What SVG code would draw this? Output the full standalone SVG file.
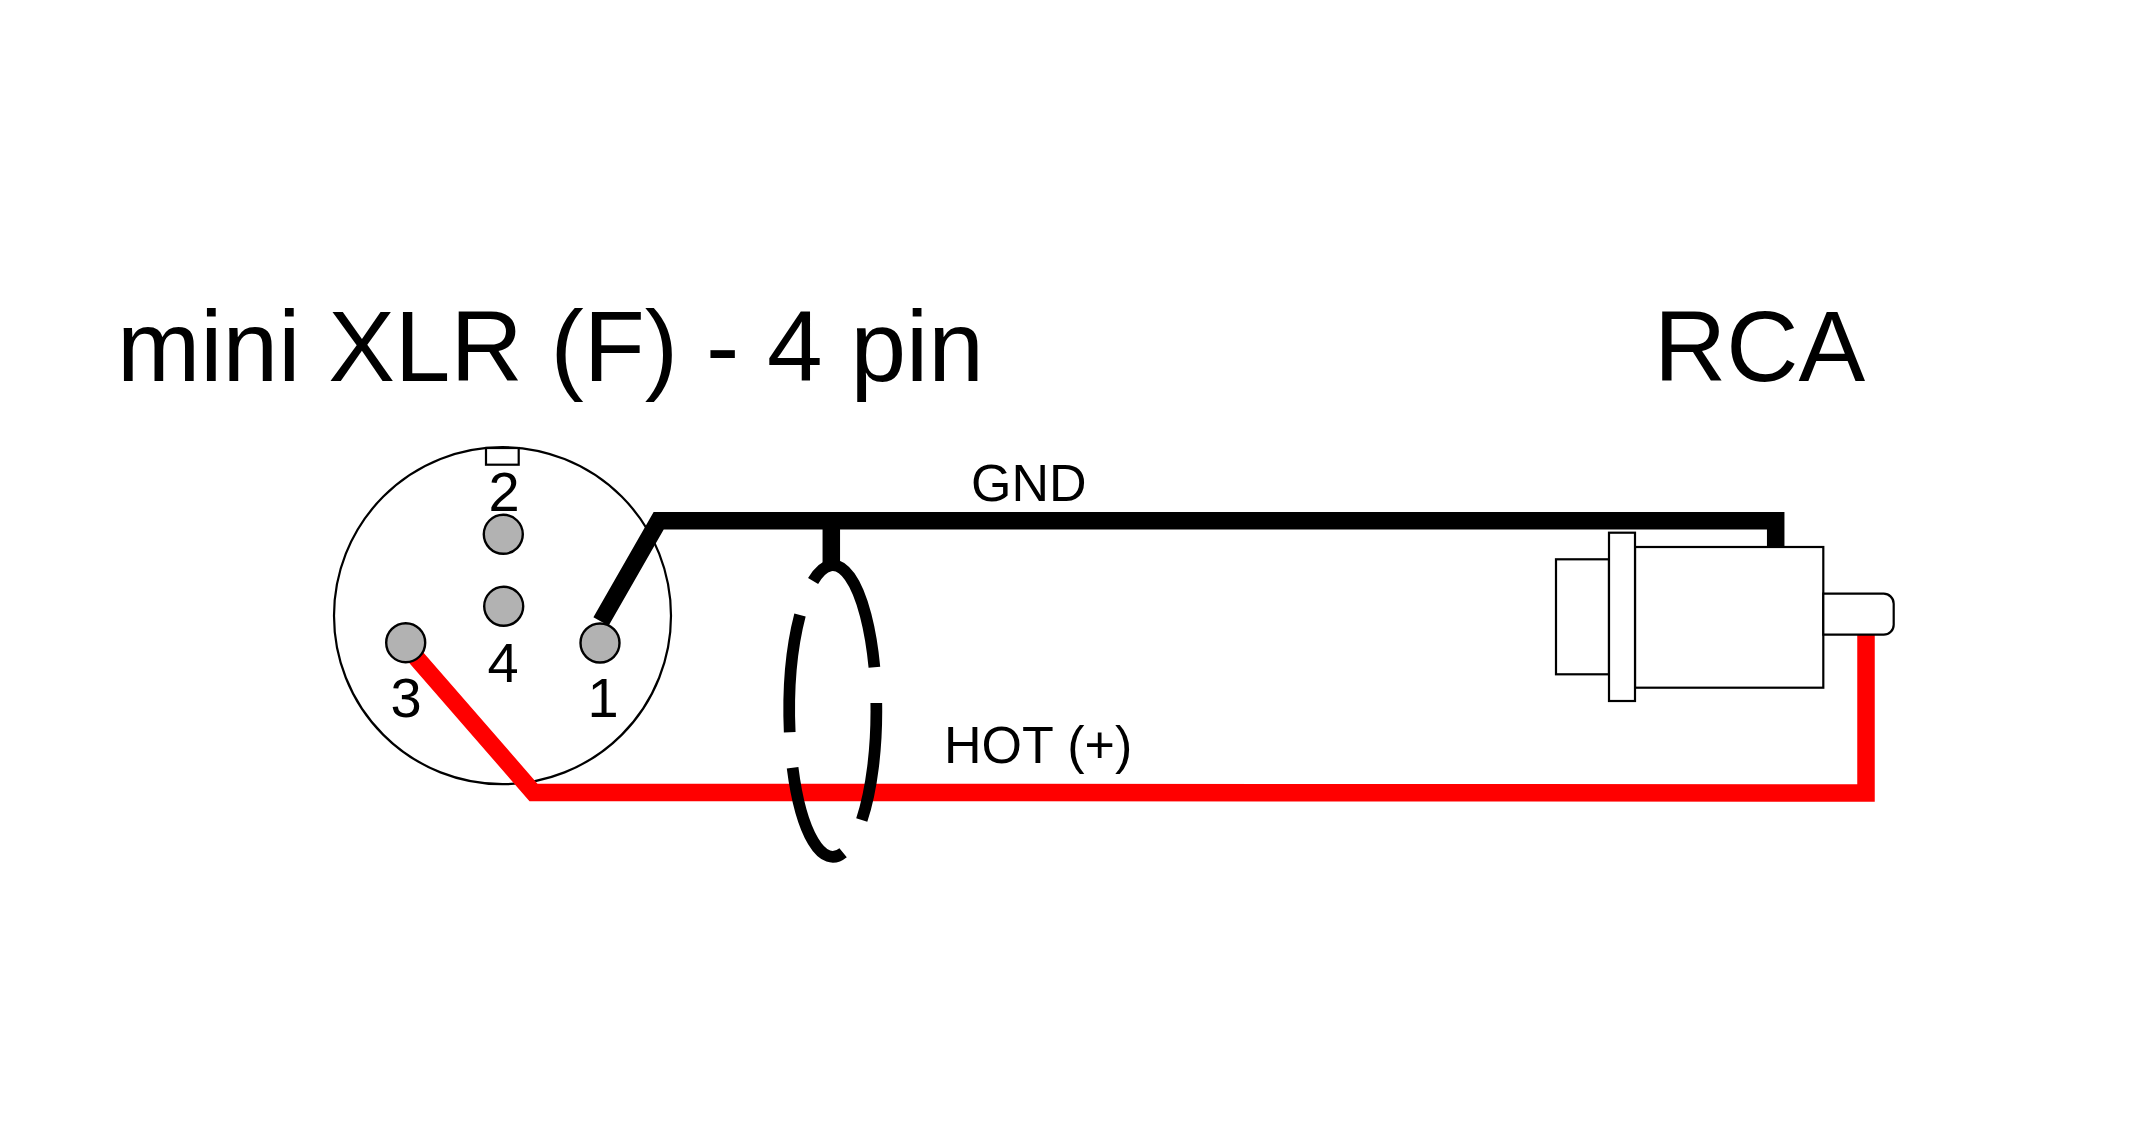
<svg xmlns="http://www.w3.org/2000/svg" width="2129" height="1144" viewBox="0 0 2129 1144">
<style>
.t{font-family:"Liberation Sans",Arial,sans-serif;fill:#000}
.title{font-size:100px}
.lab{font-size:52px}
.num{font-size:56px;text-anchor:middle}
.o{fill:#fff;stroke:#000;stroke-width:2.2}
.pin{fill:#b2b2b2;stroke:#000;stroke-width:2.4}
.w{fill:none;stroke-width:17.5;stroke-linejoin:miter;stroke-miterlimit:10}
.shield{fill:none;stroke:#000;stroke-width:11.7}
</style>
<rect width="2129" height="1144" fill="#fff"/>
<g id="xlr-body"><circle class="o" cx="502.5" cy="615.7" r="168.5"/><rect class="o" x="486" y="448" width="32.7" height="16.7"/></g>
<g id="connectors">
<path class="w" stroke="#000" d="M601 621.5L658.7 520.7H1775.7V550"/>
<path class="w" stroke="#000" d="M831.3 520.7V564"/>
<path class="w" stroke="#f00" d="M410 650.5L533.5 792.4L1866 793V632"/>
<g id="shield">
<path class="shield" d="M813.1 581A43.6 145.8 0 0 1 874.4 667.3"/>
<path class="shield" d="M876.3 703A43.6 145.8 0 0 1 861.75 820"/>
<path class="shield" d="M843.1 852.7A43.6 145.8 0 0 1 792.6 767.7"/>
<path class="shield" d="M789.7 732.3A43.6 145.8 0 0 1 800 615"/>
</g>
</g>
<g id="pin-2"><circle class="pin" cx="503.3" cy="534.3" r="19.5"/><text class="t num" x="504" y="511">2</text></g>
<g id="pin-4"><circle class="pin" cx="503.7" cy="606.3" r="19.5"/><text class="t num" x="503" y="681.7">4</text></g>
<g id="pin-3"><circle class="pin" cx="405.7" cy="642.7" r="19.5"/><text class="t num" x="406" y="716.7">3</text></g>
<g id="pin-1"><circle class="pin" cx="600" cy="643" r="19.5"/><text class="t num" x="603" y="716.7">1</text></g>
<g id="rca">
<rect class="o" x="1556" y="559.3" width="53" height="115"/>
<rect class="o" x="1635" y="547" width="188.3" height="140.7"/>
<path class="o" d="M1823.3 593.7H1883.7A10 10 0 0 1 1893.7 603.7V624.7A10 10 0 0 1 1883.7 634.7H1823.3Z"/>
<rect class="o" x="1609" y="532.7" width="26" height="168.3"/>
</g>
<g id="labels">
<text class="t title" x="117" y="381">mini XLR (F) - 4 pin</text>
<text class="t title" x="1654" y="381">RCA</text>
<text class="t lab" x="971" y="501">GND</text>
<text class="t lab" x="944" y="762.5">HOT (+)</text>
</g>
</svg>
